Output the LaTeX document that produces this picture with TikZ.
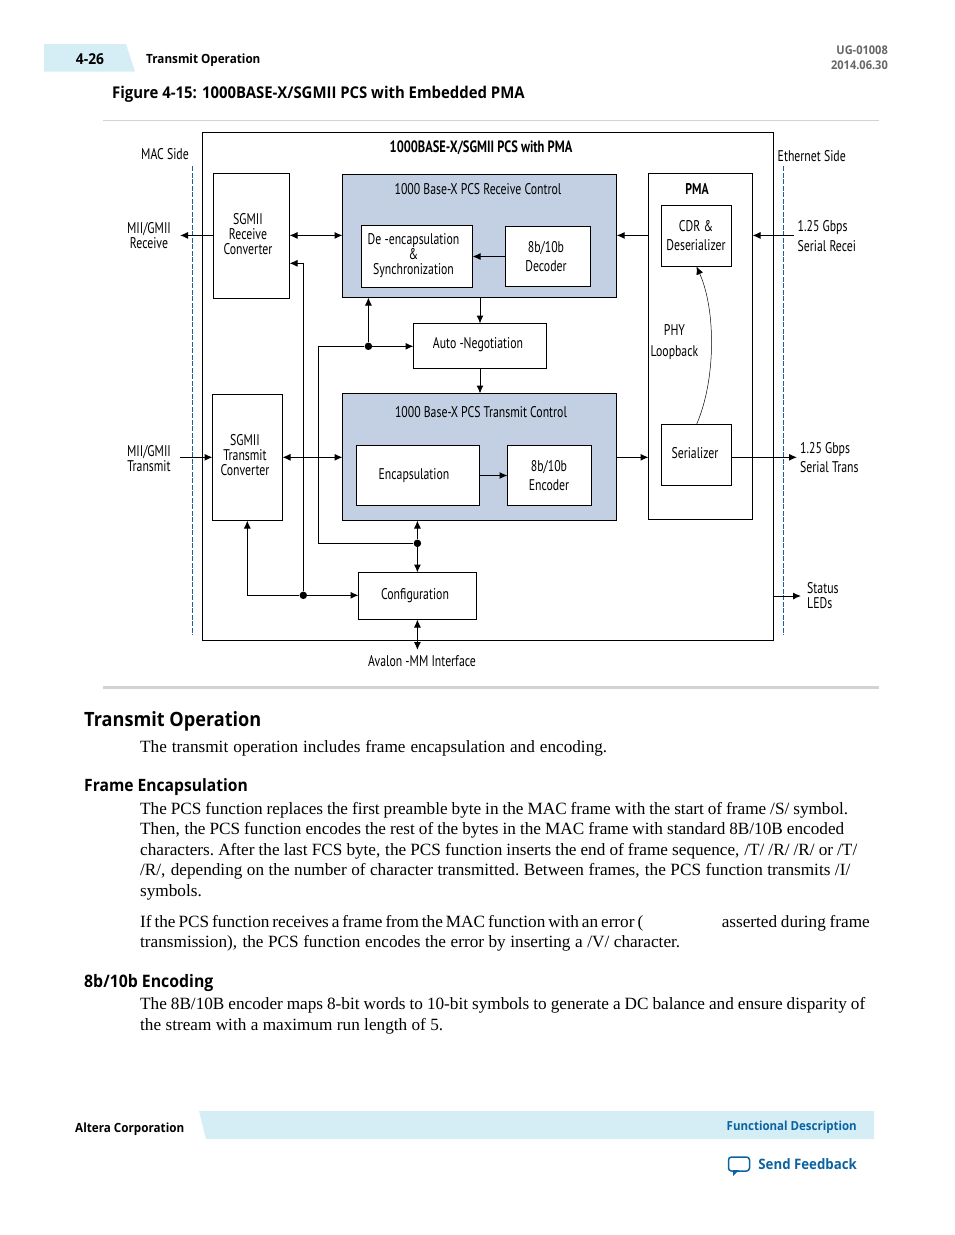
\documentclass[tikz,border=0pt]{standalone}
\usepackage{fontspec}
\setmainfont{Liberation Serif}
\newfontfamily\figfont[FakeStretch=0.76]{PT Sans}
\newfontfamily\headfont[FakeStretch=0.92]{Open Sans}
\usetikzlibrary{arrows.meta,positioning}
\definecolor{bandblue}{HTML}{D5EEF6}
\definecolor{ctrlblue}{HTML}{C3CFE2}
\definecolor{linkblue}{HTML}{0B62A0}
\definecolor{sideblue}{HTML}{1F5E9E}
\definecolor{rulegray}{HTML}{D2D3D5}
\tikzset{
  blk/.style={draw,line width=1pt,fill=white,inner sep=0pt,outer sep=0pt},
  ctrl/.style={blk,fill=ctrlblue},
  lbl/.style={font=\figfont\fontsize{15.5}{15}\selectfont,align=center,inner sep=0pt},
  lbll/.style={lbl,align=left,anchor=west},
  wire/.style={line width=1pt},
  tip/.style={wire,-{Latex[length=8pt,width=7pt]}},
  tips/.style={wire,{Latex[length=8pt,width=7pt]}-{Latex[length=8pt,width=7pt]}},
  side/.style={sideblue,line width=1.8pt,dash pattern=on 5pt off 1.5pt},
  dot/.style={circle,fill,inner sep=0pt,minimum size=7.5pt},
  bodyline/.style={anchor=base west,inner sep=0pt,font=\fontsize{17.2}{20}\selectfont},
  head/.style={anchor=west,inner sep=0pt,font=\headfont\bfseries\fontsize{19.7}{22}\selectfont},
  subhead/.style={head,font=\headfont\bfseries\fontsize{17}{20}\selectfont},
  small/.style={inner sep=0pt,font=\headfont\bfseries\fontsize{12.7}{15}\selectfont},
}
\begin{document}
\begin{tikzpicture}[x=1pt,y=-1pt]
\useasboundingbox (0,0) rectangle (954,1235);

\fill[bandblue] (44,44) -- (126,44) -- (135,71.5) -- (44,71.5) -- cycle;
\fill[bandblue] (199,1111) -- (874,1111) -- (874,1139) -- (206,1139) -- cycle;
\fill[rulegray] (103,120) rectangle (879,121);
\fill[rulegray] (103,686) rectangle (879,689);

\node[small,font=\headfont\bfseries\fontsize{15}{15}\selectfont] (pagenum) at (90,59) {4-26};
\node[small,anchor=west] (pagetitle) at (146,60) {Transmit Operation};
\node[small,anchor=east,text=black!60,font=\headfont\bfseries\fontsize{12}{14}\selectfont] (docid) at (888,50) {UG-01008};
\node[small,anchor=east,text=black!60,font=\headfont\bfseries\fontsize{12}{14}\selectfont] (docdate) at (888,65) {2014.06.30};
\node[head,font=\headfont\bfseries\fontsize{16.2}{18}\selectfont] (figtitle) at (112,94) {Figure 4-15: 1000BASE-X/SGMII PCS with Embedded PMA};

\node[blk,minimum width=571,minimum height=508] (outer) at (488,386.5) {};
\node[blk,minimum width=76,minimum height=125] (rxconv) at (251.5,236) {};
\node[ctrl,minimum width=274.2,minimum height=123] (rxctrl) at (479.6,236) {};
\node[blk,minimum width=111,minimum height=62] (deenc) at (417,256.5) {};
\node[blk,minimum width=85,minimum height=60] (decoder) at (548,256.5) {};
\node[blk,minimum width=133,minimum height=45] (autoneg) at (480,346) {};
\node[ctrl,minimum width=274.2,minimum height=127] (txctrl) at (479.6,457) {};
\node[blk,minimum width=123,minimum height=60] (encap) at (418,475.5) {};
\node[blk,minimum width=84,minimum height=60] (encoder) at (549.5,475.5) {};
\node[blk,minimum width=70,minimum height=126] (txconv) at (247.5,457.5) {};
\node[blk,minimum width=118,minimum height=47] (config) at (417.5,596) {};
\node[blk,minimum width=104,minimum height=346] (pma) at (700.5,346.5) {};
\node[blk,minimum width=70,minimum height=61] (cdr) at (696.5,236) {};
\node[blk,minimum width=70,minimum height=61] (ser) at (696.5,455) {};

\draw[side] (192.5,166) -- (192.5,635);
\draw[side] (783.5,166) -- (783.5,635);

\coordinate (rowrx) at (0,235.4);
\coordinate (rowtx) at (0,457.3);
\coordinate (miirx) at (180,235.4);
\coordinate (miitx) at (180,457.3);
\coordinate (serrx) at (794,235.4);
\coordinate (sertx) at (797,457.3);
\coordinate (leds) at (801,596);
\coordinate (avalon) at (417.4,650);
\coordinate (cornera) at (318.3,346.3);
\coordinate (cornerb) at (318.3,543.3);
\coordinate (cornerc) at (303.3,263.3);
\coordinate (cornerd) at (247.3,595.3);
\node[dot] (dota) at (368.4,346.3) {};
\node[dot] (dotb) at (417.4,543.3) {};
\node[dot] (dotc) at (303.3,595.3) {};

\draw[tip] (rxconv.west |- rowrx) -- (miirx);
\draw[tips] (rxconv.east |- rowrx) -- (rxctrl.west |- rowrx);
\draw[tip] (pma.west |- rowrx) -- (rxctrl.east |- rowrx);
\draw[tip] (serrx) -- (pma.east |- rowrx);
\draw[tip] (decoder.west) -- (deenc.east);
\draw[tip] (rxctrl.south -| autoneg.north) -- (autoneg.north);
\draw[tip] (autoneg.south) -- (txctrl.north -| autoneg.south);
\draw[tip] (dota) -- (dota |- rxctrl.south);
\draw[tip] (cornera) -- (dota) -- (autoneg.west |- dota);
\draw[wire] (cornera) -- (cornerb) -- (dotb);
\draw[tip] (dotb) -- (dotb |- txctrl.south);
\draw[tip] (dotb) -- (dotb |- config.north);
\draw[tips] (config.south -| avalon) -- (avalon);
\draw[tip] (dotc) -- (cornerc) -- (rxconv.east |- cornerc);
\draw[tip] (dotc) -- (config.west |- dotc);
\draw[tip] (dotc) -- (cornerd) -- (txconv.south -| cornerd);
\draw[tip] (miitx) -- (txconv.west |- rowtx);
\draw[tips] (txconv.east |- rowtx) -- (txctrl.west |- rowtx);
\draw[tip] (txctrl.east |- rowtx) -- (pma.west |- rowtx);
\draw[tip] (ser.east |- rowtx) -- (sertx);
\draw[tip] (encap.east) -- (encoder.west);
\draw[tip] (outer.east |- leds) -- (leds);
\draw[line width=.5pt,-{Latex[length=8pt,width=7pt]}] (ser.north) .. controls (716,380) and (716,310) .. (cdr.south);

\node[lbl,font=\figfont\bfseries\fontsize{16.4}{15}\selectfont] (outerlbl) at (481,147.5) {1000BASE-X/SGMII PCS with PMA};
\node[lbl] (maclbl) at (165,154) {MAC Side};
\node[lbl,anchor=west] (ethlbl) at (777.5,156) {Ethernet Side};
\node[lbl] (miirxlbl) at (149,235.5) {MII/GMII\\Receive};
\node[lbl] (miitxlbl) at (149,458.5) {MII/GMII\\Transmit};
\node[lbl] (rxconvlbl) at (248,234) {SGMII\\Receive\\Converter};
\node[lbl] (txconvlbl) at (245,455.5) {SGMII\\Transmit\\Converter};
\node[lbl] (rxctrllbl) at (478,189) {1000 Base-X PCS Receive Control};
\node[lbl] (txctrllbl) at (481,412) {1000 Base-X PCS Transmit Control};
\node[lbl] (deenclbl) at (413.5,256) {De -encapsulation\\\&\\Synchronization};
\node[lbl] (decoderlbl) at (546,256.5) {8b/10b\\[4pt]Decoder};
\node[lbl] (autoneglbl) at (478,345) {Auto -Negotiation};
\node[lbl] (encaplbl) at (414,475.5) {Encapsulation};
\node[lbl] (encoderlbl) at (549,475.5) {8b/10b\\[4pt]Encoder};
\node[lbl] (configlbl) at (415,595.5) {Configuration};
\node[lbl,font=\figfont\bfseries\fontsize{15.5}{15}\selectfont] (pmalbl) at (697,189) {PMA};
\node[lbl] (cdrlbl) at (696,236) {CDR \&\\[4pt]Deserializer};
\node[lbl] (serlbl) at (695,453) {Serializer};
\node[lbl] (looplbl) at (674.5,342.5) {PHY\\[6pt]Loopback};
\node[lbll] (serrxlbl) at (797.5,236.5) {1.25 Gbps\\[5pt]Serial Recei};
\node[lbll] (sertxlbl) at (800,458) {1.25 Gbps\\[4pt]Serial Trans};
\node[lbll] (ledslbl) at (807,596) {Status\\LEDs};
\node[lbl] (avalonlbl) at (422,661) {Avalon -MM Interface};

\node[head] (opshead) at (84,721) {Transmit Operation};
\node[subhead] (framehead) at (84,787.5) {Frame Encapsulation};
\node[subhead,font=\headfont\bfseries\fontsize{17.2}{20}\selectfont] (enchead) at (84,983.5) {8b/10b Encoding};

\foreach \i/\ypos/\wdt/\txt in {
  1/752/467/{The transmit operation includes frame encapsulation and encoding.},
  2/814/708/{The PCS function replaces the first preamble byte in the MAC frame with the start of frame /S/ symbol.},
  3/834/704/{Then, the PCS function encodes the rest of the bytes in the MAC frame with standard 8B/10B encoded},
  4/855/717/{characters. After the last FCS byte, the PCS function inserts the end of frame sequence, /T/ /R/ /R/ or /T/},
  5/875/710/{/R/, depending on the number of character transmitted. Between frames, the PCS function transmits /I/},
  6/896/60/{symbols.},
  7/927/503/{If the PCS function receives a frame from the MAC function with an error (},
  8/947/540/{transmission), the PCS function encodes the error by inserting a /V/ character.},
  9/1009/725/{The 8B/10B encoder maps 8-bit words to 10-bit symbols to generate a DC balance and ensure disparity of},
  10/1030/303/{the stream with a maximum run length of 5.}}
  \node[bodyline] (body\i) at (140,\ypos) {\spaceskip=.08em plus 1em\xspaceskip=\spaceskip\makebox[\wdt pt][s]{\txt}};
\node[bodyline,anchor=base east] (bodyend) at (870,927) {\spaceskip=.08em plus 1em\makebox[148pt][s]{asserted during frame}};

\node[small,anchor=west] (corp) at (75,1129) {Altera Corporation};
\node[small,anchor=east,text=linkblue,font=\headfont\bfseries\fontsize{12.5}{15}\selectfont] (funcdesc) at (857,1127) {Functional Description};
\node[small,anchor=east,text=linkblue,font=\headfont\bfseries\fontsize{14.4}{16}\selectfont] (feedback) at (857,1164) {Send Feedback};
\draw[linkblue,line width=1.5pt,rounded corners=3pt] (728.5,1157) rectangle (749.5,1171);
\fill[linkblue] (733,1170) -- (739,1170) -- (733,1176) -- cycle;
\end{tikzpicture}
\end{document}
